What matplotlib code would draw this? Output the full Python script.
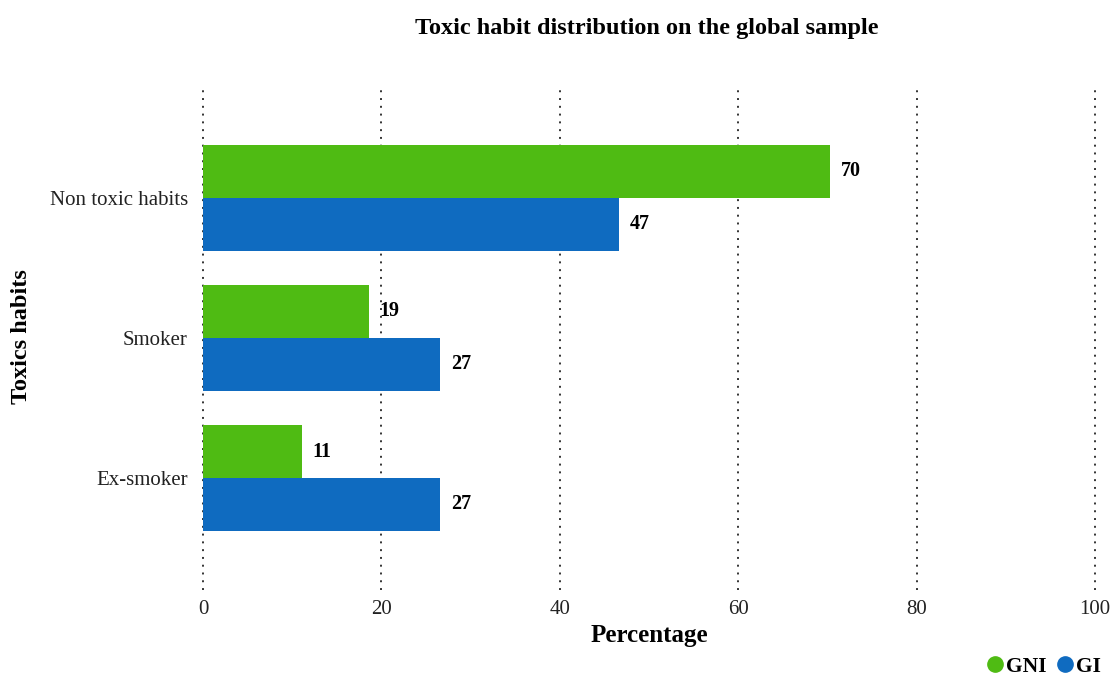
import matplotlib
matplotlib.use("Agg")
import matplotlib.pyplot as plt
from matplotlib.lines import Line2D
import numpy as np

plt.rcParams['font.family'] = ['Liberation Serif', 'DejaVu Serif']

categories = ["Non toxic habits", "Smoker", "Ex-smoker"]
gni = [70.3, 18.6, 11.1]
gi = [46.6, 26.6, 26.6]
series_names = ["GNI", "GI"]
colors = ["#4FBB13", "#0F6BC0"]
x_ticks = [0, 20, 40, 60, 80, 100]

fig = plt.figure(figsize=(11.12, 6.8), dpi=100)
ax = fig.add_axes([0.1826, 0.1324, 0.8021, 0.7412])

pos = np.arange(len(categories))
h = 0.378
for vals, color, off in [(gni, colors[0], -h / 2), (gi, colors[1], h / 2)]:
    bars = ax.barh(pos + off, vals, height=h, color=color, zorder=2)
    for b, v in zip(bars, vals):
        ax.text(v + 1.2, b.get_y() + b.get_height() / 2, f"{round(v)}",
                va="center", ha="left", fontsize=14.5, fontweight="bold")

ax.set_xlim(0, 100)
ax.set_ylim(2.8, -0.8)
ax.set_xticks(x_ticks)
ax.set_yticks(pos)
ax.set_yticklabels(categories)
ax.tick_params(axis="both", length=0, labelsize=15, colors="#222222")
ax.tick_params(axis="x", pad=7)
ax.tick_params(axis="y", pad=11)
for s in ax.spines.values():
    s.set_visible(False)
ax.grid(axis="x", linestyle=(0, (1, 3)), color="#333333", linewidth=1.4, zorder=0)
for gl in ax.get_xgridlines():
    gl.set_clip_on(False)
ax.set_axisbelow(True)

ax.set_xlabel("Percentage", fontsize=18, fontweight="bold", labelpad=4)
fig.text(22 / 1112, 1 - 337 / 680, "Toxics habits", rotation=90,
         ha="center", va="center", fontsize=17.5, fontweight="bold")

fig.text(0.582, 0.958, "Toxic habit distribution on the global sample",
         ha="center", va="center", fontsize=17.5, fontweight="bold")

handles = [Line2D([], [], marker="o", linestyle="", markersize=11, color=c) for c in colors]
leg = fig.legend(handles, series_names, loc="lower right", bbox_to_anchor=(1.007, -0.024),
                 ncol=2, frameon=False, handletextpad=-0.2, columnspacing=0.15,
                 handlelength=1.4, prop={"size": 15.5, "weight": "bold"})

fig.savefig("out.png", dpi=100)
